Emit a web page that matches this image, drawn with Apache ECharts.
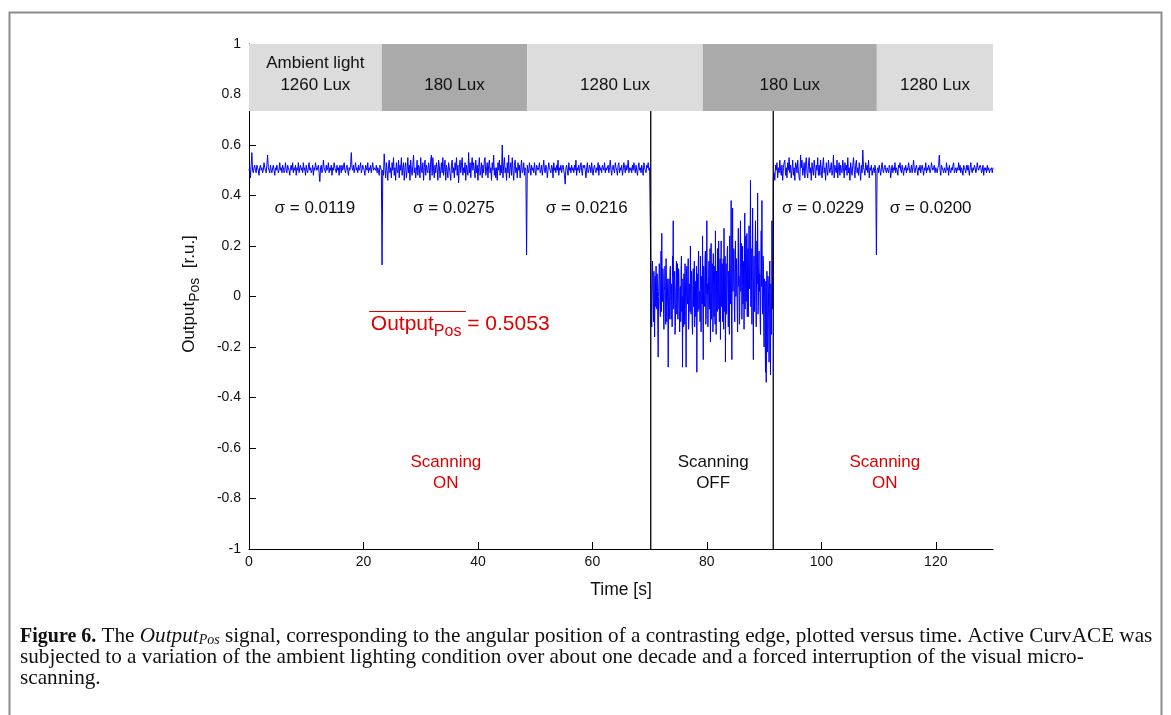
<!DOCTYPE html>
<html>
<head>
<meta charset="utf-8">
<script src="https://cdn.jsdelivr.net/npm/echarts@6.0.0/dist/echarts.min.js"></script>
<style>
  html, body { margin: 0; padding: 0; background: #fff; }
  #chart { width: 1171px; height: 715px; }
</style>
</head>
<body>
<div id="chart"></div>
<script>
// OutputPos samples [r.u.] while scanning is ON, 0.125 s apart
const onStep = 0.125;
// 0 – 23.125 s, 1260 Lux
const on1Start = 0;
const on1 = [
  .50,.51,.47,.52,.57,.50,.49,.51,.52,.50,.49,.52,.51,.50,.48,.51,
  .52,.50,.51,.49,.50,.53,.51,.50,.49,.52,.56,.51,.50,.49,.52,.50,
  .49,.51,.52,.50,.48,.51,.50,.52,.51,.49,.50,.53,.50,.51,.49,.52,
  .51,.49,.50,.53,.50,.49,.52,.51,.50,.48,.51,.52,.50,.53,.49,.51,
  .50,.52,.48,.51,.50,.53,.49,.51,.52,.50,.51,.49,.53,.50,.51,.48,
  .52,.50,.49,.51,.53,.50,.51,.49,.50,.52,.48,.51,.50,.53,.51,.50,
  .50,.52,.49,.455,.51,.52,.49,.50,.54,.51,.50,.49,.52,.50,.51,.53,
  .49,.51,.50,.52,.48,.51,.50,.53,.51,.50,.49,.52,.50,.51,.48,.52,
  .51,.49,.52,.50,.51,.53,.50,.49,.51,.52,.50,.48,.51,.50,.52,.57,
  .51,.50,.52,.49,.51,.53,.50,.51,.49,.52,.50,.51,.53,.49,.50,.52,
  .51,.50,.48,.52,.51,.50,.53,.49,.51,.50,.52,.49,.51,.53,.50,.51,
  .51,.50,.52,.49,.51,.50,.48,.52,.51,.50
];
// 23.25 – 48.5 s, 180 Lux
const on2Start = 23.25;
const on2 = [
  .125,.50,.48,.565,.51,.47,.53,.50,.46,.52,.54,.49,.51,.47,.53,.50,
  .55,.48,.51,.46,.53,.50,.49,.54,.47,.52,.50,.55,.48,.51,.53,.46,
  .51,.53,.47,.50,.55,.49,.52,.46,.54,.50,.48,.52,.56,.49,.51,.47,
  .50,.54,.48,.52,.51,.47,.55,.50,.49,.53,.46,.51,.54,.48,.52,.50,
  .49,.53,.51,.46,.54,.56,.48,.55,.50,.47,.52,.49,.53,.51,.46,.54,
  .52,.47,.50,.53,.49,.55,.48,.51,.54,.46,.52,.50,.47,.53,.51,.49,
  .46,.52,.54,.49,.51,.47,.53,.50,.55,.48,.52,.45,.51,.54,.49,.52,
  .55,.48,.51,.49,.53,.46,.52,.50,.48,.57,.49,.53,.47,.52,.55,.50,
  .53,.50,.47,.54,.49,.52,.46,.51,.55,.48,.50,.53,.47,.52,.49,.54,
  .55,.48,.50,.53,.47,.52,.54,.49,.51,.46,.53,.50,.56,.48,.51,.47,
  .51,.46,.53,.50,.54,.48,.52,.49,.60,.47,.52,.55,.49,.51,.46,.53,
  .49,.56,.47,.51,.53,.48,.55,.50,.46,.52,.54,.49,.51,.47,.53,.50,
  .52,.47,.51,.54,.49,.50,.53,.48,.51,.50,.165
];
// 48.625 – 70 s, 1280 Lux
const on3Start = 48.625;
const on3 = [
  .52,.50,.49,.53,.51,.48,.52,.50,.51,.49,.53,.50,.48,.52,.51,.50,
  .51,.53,.49,.50,.52,.48,.51,.54,.50,.49,.52,.51,.47,.50,.53,.51,
  .50,.49,.52,.51,.47,.53,.50,.51,.49,.52,.50,.54,.48,.51,.50,.52,
  .49,.51,.52,.50,.48,.445,.51,.52,.50,.48,.53,.50,.51,.49,.52,.50,
  .51,.49,.52,.50,.54,.48,.51,.50,.52,.49,.51,.53,.50,.48,.52,.51,
  .52,.50,.47,.51,.53,.49,.50,.52,.51,.49,.53,.50,.48,.51,.52,.50,
  .49,.51,.50,.53,.48,.52,.50,.51,.49,.52,.51,.50,.53,.49,.51,.50,
  .50,.52,.49,.51,.54,.50,.48,.51,.52,.50,.49,.53,.51,.50,.48,.52,
  .53,.49,.51,.50,.52,.48,.50,.53,.51,.49,.52,.50,.51,.54,.49,.51,
  .50,.51,.49,.52,.50,.53,.51,.49,.52,.50,.48,.51,.53,.50,.51,.49,
  .52,.50,.48,.53,.51,.50,.49,.52,.51,.53,.50,.51
];
// scanning OFF, 70.25 – 91.5 s, 0.0625 s apart
const offStep = 0.0625;
const offStart = 70.25;
const off = [
  .05,-.08,-.12,.03,.14,.06,-.02,-.10,.10,.01,-.16,.07,.08,-.04,.12,.02,
  -.05,.09,.02,-.13,-.24,.00,.06,.13,.11,-.03,-.08,.05,.18,-.06,.25,.04,
  -.02,.11,.09,-.07,-.13,.02,.04,.12,-.06,-.11,.15,.03,-.10,.07,.01,-.04,
  -.28,.00,.07,-.09,-.04,.10,.12,-.02,-.09,.05,.03,-.12,.16,.08,.30,-.05,
  -.03,.06,.10,-.15,-.12,.02,.05,.14,-.07,-.01,.13,-.09,-.01,.11,.08,-.06,
  -.14,.03,.04,-.10,.11,.16,-.06,.00,-.28,.07,.02,-.12,.09,.04,-.11,.13,
  .06,-.05,-.28,.08,.12,-.01,-.03,.10,.15,-.13,-.09,.05,.04,-.06,.20,.02,
  -.07,.10,.08,-.11,-.15,.03,.11,-.04,.02,.14,-.12,.00,.06,-.08,-.02,.12,
  -.30,.04,.09,-.06,.13,.18,-.05,.02,.01,-.10,.16,.05,-.14,.08,.07,-.03,
  .24,-.07,-.25,.12,.10,-.02,-.04,.15,.18,-.11,-.09,.06,.30,.01,.05,-.12,
  -.12,.08,.14,-.05,.03,.19,-.18,.02,.21,-.09,-.02,.13,.09,-.14,.17,.04,
  -.08,.05,.12,-.11,.26,.07,-.15,.10,.06,-.06,.19,.03,-.05,.22,.11,-.10,
  .02,.15,-.17,.06,.22,-.04,.08,.13,-.10,.01,.15,-.13,.27,.05,-.06,.16,
  -.26,.09,.13,-.07,.04,.18,.20,-.02,-.12,.10,.09,-.15,.24,.03,-.03,.14,
  .38,-.08,-.25,.12,.35,.02,.06,.19,.18,-.05,-.10,.08,.22,.00,.01,.15,
  .15,-.06,-.14,.10,.27,.04,.08,-.11,-.06,.17,.30,.02,.12,.21,-.09,.05,
  .20,-.03,.04,.14,-.13,.09,.33,-.05,.10,.24,-.02,.07,.25,-.08,.14,.19,
  -.08,.12,.28,.03,.12,.20,.46,-.04,.19,.06,-.11,.15,.35,.01,-.25,.09,
  .16,-.06,.03,.18,.30,-.02,-.12,.10,.22,.05,.41,-.07,-.04,.13,.18,.02,
  .09,-.09,-.15,.11,.26,.04,.38,-.03,-.07,.16,.13,-.10,-.20,.07,.05,-.14,
  -.30,.06,-.34,-.05,.10,-.22,-.18,.08,.04,-.10,-.26,.02,.14,-.12,-.31,.05,
  .02,-.15,.30,.08,-.05
];
// 91.625 – 109.5 s, 180 Lux
const on4Start = 91.625;
const on4 = [
  .47,.49,.46,.52,.50,.53,.47,.51,.49,.54,.50,.48,.52,.46,.51,.53,
  .54,.48,.51,.47,.53,.50,.55,.49,.52,.47,.50,.54,.48,.51,.46,.53,
  .52,.49,.54,.50,.47,.46,.56,.51,.54,.48,.50,.53,.47,.52,.55,.49,
  .47,.52,.55,.49,.51,.46,.53,.50,.48,.54,.51,.47,.52,.50,.55,.48,
  .52,.48,.54,.50,.47,.52,.55,.49,.51,.46,.53,.50,.48,.54,.51,.49,
  .51,.53,.48,.50,.56,.47,.52,.50,.49,.54,.47,.51,.53,.48,.52,.50,
  .49,.54,.51,.47,.53,.50,.52,.48,.55,.49,.51,.46,.53,.50,.48,.52,
  .55,.50,.47,.52,.54,.49,.51,.48,.53,.50,.46,.52,.49,.58,.51,.50,
  .48,.53,.50,.52,.49,.54,.47,.51,.50,.52,.48,.50,.51,.49,.52,.50
];
// 109.625 – 130 s, 1280 Lux
const on5Start = 109.625;
const on5 = [
  .165,.50,.51,.49,.52,.50,.48,.51,.53,.50,.49,.51,.52,.50,.49,.51,
  .50,.49,.52,.51,.47,.50,.52,.49,.51,.50,.53,.49,.51,.50,.48,.52,
  .51,.53,.50,.49,.52,.50,.48,.51,.50,.52,.49,.51,.50,.53,.51,.49,
  .50,.52,.49,.51,.54,.50,.49,.51,.52,.50,.48,.51,.50,.52,.49,.51,
  .52,.50,.48,.51,.50,.53,.49,.51,.50,.52,.51,.49,.50,.53,.51,.50,
  .50,.52,.49,.51,.50,.49,.51,.52,.56,.50,.48,.52,.51,.50,.49,.51,
  .51,.49,.53,.50,.51,.48,.52,.50,.49,.51,.50,.52,.53,.49,.50,.51,
  .49,.51,.50,.53,.50,.52,.49,.51,.50,.48,.52,.51,.50,.49,.52,.50,
  .52,.50,.48,.51,.53,.50,.49,.51,.50,.52,.51,.49,.50,.53,.51,.50,
  .50,.52,.51,.49,.50,.52,.48,.51,.50,.51,.49,.52,.50,.51,.49,.50,
  .50,.51,.49,.51
];

// lighting periods along the top
const bandEdges = [0, 23.2, 48.6, 79.3, 109.7, 130];
const bandLabels = ['Ambient light\n1260 Lux', '180 Lux', '1280 Lux', '180 Lux', '1280 Lux'];
const bandBottom = 0.735;

// instants where scanning was switched off / on again
const switchTimes = [70.2, 91.6];

// per-period standard deviations
const sigmaLabels = ['σ = 0.0119', 'σ = 0.0275', 'σ = 0.0216', 'σ = 0.0229', 'σ = 0.0200'];
const sigmaX = [11.5, 35.8, 59.0, 100.3, 119.1];
const sigmaY = 0.35;

const scanLabels = ['Scanning\nON', 'Scanning\nOFF', 'Scanning\nON'];
const scanX = [34.4, 81.1, 111.1];
const scanY = -0.697;

const meanText = '0.5053';

const xTicks = [0, 20, 40, 60, 80, 100, 120];

const RED = '#e00000';
const INK = '#111';
const FONT = 'Liberation Sans, Arial, sans-serif';
const SERIF = 'Liberation Serif, Times New Roman, serif';

function toPoints(start, step, values) {
  return values.map((v, i) => [+(start + i * step).toFixed(4), v]);
}

const signal = [].concat(
  toPoints(on1Start, onStep, on1),
  toPoints(on2Start, onStep, on2),
  toPoints(on3Start, onStep, on3),
  toPoints(offStart, offStep, off),
  toPoints(on4Start, onStep, on4),
  toPoints(on5Start, onStep, on5)
);

const switchLines = [];
switchTimes.forEach((t, i) => {
  if (i) switchLines.push('-');
  switchLines.push([t, -1], [t, bandBottom]);
});

const bandAreas = bandLabels.map((name, i) => [
  {
    name,
    xAxis: bandEdges[i], yAxis: bandBottom,
    itemStyle: { color: i % 2 ? '#aaaaaa' : '#dcdcdc' },
    label: { offset: [0, i === 0 ? -3 : 8] }
  },
  { xAxis: bandEdges[i + 1], yAxis: 1 }
]);

const notes = [];
sigmaLabels.forEach((s, i) => notes.push({
  value: [sigmaX[i], sigmaY],
  label: { formatter: s, color: INK }
}));
scanLabels.forEach((s, i) => notes.push({
  value: [scanX[i], scanY],
  label: { formatter: s, color: i === 1 ? INK : RED, lineHeight: 21 }
}));
notes.push({
  value: [36.9, -0.11],
  label: {
    formatter: '{o|Output}{s|Pos}{o| = ' + meanText + '}',
    rich: {
      o: { fontSize: 21, color: RED, fontFamily: FONT, lineHeight: 30, verticalAlign: 'middle' },
      s: { fontSize: 16, color: RED, fontFamily: FONT, lineHeight: 12, verticalAlign: 'bottom' }
    }
  }
});

const chart = echarts.init(document.getElementById('chart'), null, { renderer: 'canvas' });

chart.setOption({
  backgroundColor: '#fff',
  animation: false,
  textStyle: { fontFamily: FONT },
  grid: { left: 249, right: 178, top: 44, bottom: 166 },
  xAxis: {
    type: 'value', min: 0, max: 130, interval: 20,
    name: 'Time [s]', nameLocation: 'middle', nameGap: 32,
    nameTextStyle: { fontSize: 17.5, color: INK, fontFamily: FONT },
    axisLine: { onZero: false, lineStyle: { color: '#000', width: 1 } },
    axisTick: { inside: true, length: 7, lineStyle: { color: '#000' }, customValues: xTicks },
    axisLabel: {
      fontSize: 14, color: INK, margin: 6, fontFamily: FONT,
      customValues: xTicks,
      formatter: v => (xTicks.indexOf(v) >= 0 ? String(v) : '')
    },
    splitLine: { show: false }
  },
  yAxis: {
    type: 'value', min: -1, max: 1, interval: 0.2,
    axisLine: { show: true, onZero: false, lineStyle: { color: '#000', width: 1 } },
    axisTick: { show: true, inside: true, length: 7, lineStyle: { color: '#000' } },
    axisLabel: { fontSize: 14, color: INK, margin: 8, fontFamily: FONT },
    splitLine: { show: false }
  },
  series: [
    {
      name: 'OutputPos',
      type: 'line',
      data: signal,
      showSymbol: false,
      symbol: 'none',
      lineStyle: { color: '#0000ff', width: 1 },
      z: 3,
      silent: true
    },
    {
      name: 'switch',
      type: 'line',
      data: switchLines,
      symbol: 'none',
      connectNulls: false,
      lineStyle: { color: '#000', width: 1.3 },
      z: 4,
      silent: true,
      markArea: {
        silent: true,
        label: {
          show: true, position: 'inside', color: INK,
          fontSize: 17, lineHeight: 22, fontFamily: FONT
        },
        data: bandAreas
      }
    },
    {
      name: 'notes',
      type: 'scatter',
      data: notes,
      symbolSize: 0,
      silent: true,
      z: 5,
      itemStyle: { opacity: 1 },
      label: { show: true, position: 'inside', fontSize: 17, fontFamily: FONT, opacity: 1 },
      markLine: {
        silent: true,
        symbol: 'none',
        label: { show: false },
        lineStyle: { color: RED, width: 1, type: 'solid', opacity: 1 },
        data: [[{ coord: [21.0, -0.057] }, { coord: [37.9, -0.057] }]]
      }
    }
  ],
  graphic: [
    {
      type: 'rect', silent: true,
      shape: { x: 9.5, y: 12.5, width: 1152, height: 720 },
      style: { fill: null, stroke: '#8c8c8c', lineWidth: 2 }
    },
    {
      type: 'text', silent: true,
      x: 189, y: 294, rotation: Math.PI / 2,
      style: {
        text: '{a|Output}{s|Pos}{a|  [r.u.]}',
        align: 'center', verticalAlign: 'middle',
        rich: {
          a: { fontSize: 17, fill: INK, fontFamily: FONT, lineHeight: 26, verticalAlign: 'middle' },
          s: { fontSize: 14, fill: INK, fontFamily: FONT, lineHeight: 12, verticalAlign: 'bottom' }
        }
      }
    },
    {
      type: 'text', silent: true,
      x: 20, y: 626,
      style: {
        text:
          '{b|Figure 6.} The {i|Output}{is|Pos} signal, corresponding to the angular position of a contrasting edge, plotted versus time. Active CurvACE was\n' +
          'subjected to a variation of the ambient lighting condition over about one decade and a forced interruption of the visual micro-\n' +
          'scanning.',
        fontFamily: SERIF,
        fontSize: 21.2,
        lineHeight: 21,
        fill: INK,
        rich: {
          b: { fontWeight: 'bold', fontSize: 20, fontFamily: SERIF, lineHeight: 21, verticalAlign: 'middle' },
          i: { fontStyle: 'italic', fontSize: 21.2, fontFamily: SERIF, lineHeight: 21, verticalAlign: 'middle' },
          is: { fontStyle: 'italic', fontSize: 14, fontFamily: SERIF, lineHeight: 11, verticalAlign: 'bottom' }
        }
      }
    }
  ]
});
</script>
</body>
</html>
